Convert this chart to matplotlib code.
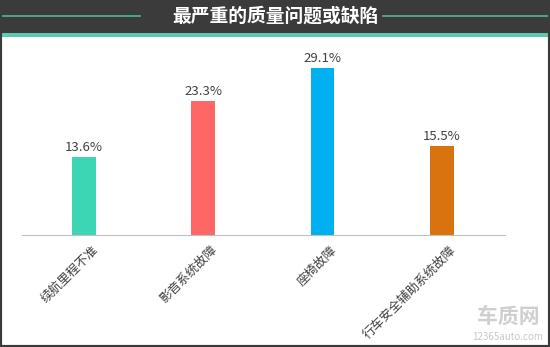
import matplotlib.pyplot as plt
import matplotlib.patches as patches
import numpy as np

plt.rcParams['font.family'] = ['Noto Sans CJK SC', 'DejaVu Sans']

categories = ['续航里程不准', '影音系统故障', '座椅故障', '行车安全辅助系统故障']
values = [13.6, 23.3, 29.1, 15.5]
colors = ['#3dd6b5', '#ff6666', '#00b0f0', '#d9730d']
title = '最严重的质量问题或缺陷'

fig = plt.figure(figsize=(5.5, 3.47), dpi=100)
fig.patch.set_facecolor('white')

# header band
fig.patches.append(patches.Rectangle((0, 1 - 33/347), 1, 33/347, transform=fig.transFigure,
                                     facecolor='#3b3b3b', edgecolor='none', zorder=0))
fig.patches.append(patches.Rectangle((0, 1 - 37/347), 1, 4/347, transform=fig.transFigure,
                                     facecolor='#5ccab2', edgecolor='none', zorder=0))
y_line = 1 - 16/347
fig.add_artist(plt.Line2D([0.0, 140/550], [y_line, y_line], transform=fig.transFigure,
                          color='#4fb79e', lw=1.2))
fig.add_artist(plt.Line2D([383/550, 1.0], [y_line, y_line], transform=fig.transFigure,
                          color='#4fb79e', lw=1.2))
fig.text(0.5, y_line, title, ha='center', va='center', color='white',
         fontsize=13.5, fontweight='bold')

# outer border
fig.patches.append(patches.Rectangle((0, 0), 1, 1, transform=fig.transFigure,
                                     facecolor='none', edgecolor='#3b3b3b', lw=3, zorder=5))

ax = fig.add_axes([22/550, 1 - 235/347, 483/550, 190/347])
x = np.arange(len(categories))
ax.bar(x, values, width=0.2, color=colors)
for xi, v in zip(x, values):
    ax.text(xi, v + 0.5, f'{v}%', ha='center', va='bottom', fontsize=9.5, color='#404040')

ax.set_xlim(-0.52, 3.53)
ax.set_ylim(0, 33.1)
ax.set_yticks([])
ax.set_xticks(x + 0.06)
ax.set_xticklabels(categories, rotation=45, ha='right', rotation_mode='anchor',
                   fontsize=9, color='#404040')
ax.tick_params(axis='x', length=0, pad=6)
for s in ['top', 'right', 'left']:
    ax.spines[s].set_visible(False)
ax.spines['bottom'].set_color('#c0c0c0')
ax.patch.set_alpha(0)

# watermark
fig.text(508/550, 1 - 316/347, '车质网', ha='center', va='center', fontsize=15,
         color='#cfcfcf', fontweight='bold')
fig.text(508/550, 1 - 337/347, '12365auto.com', ha='center', va='center', fontsize=7,
         color='#c8c8c8')

fig.savefig('out.png', dpi=100)
